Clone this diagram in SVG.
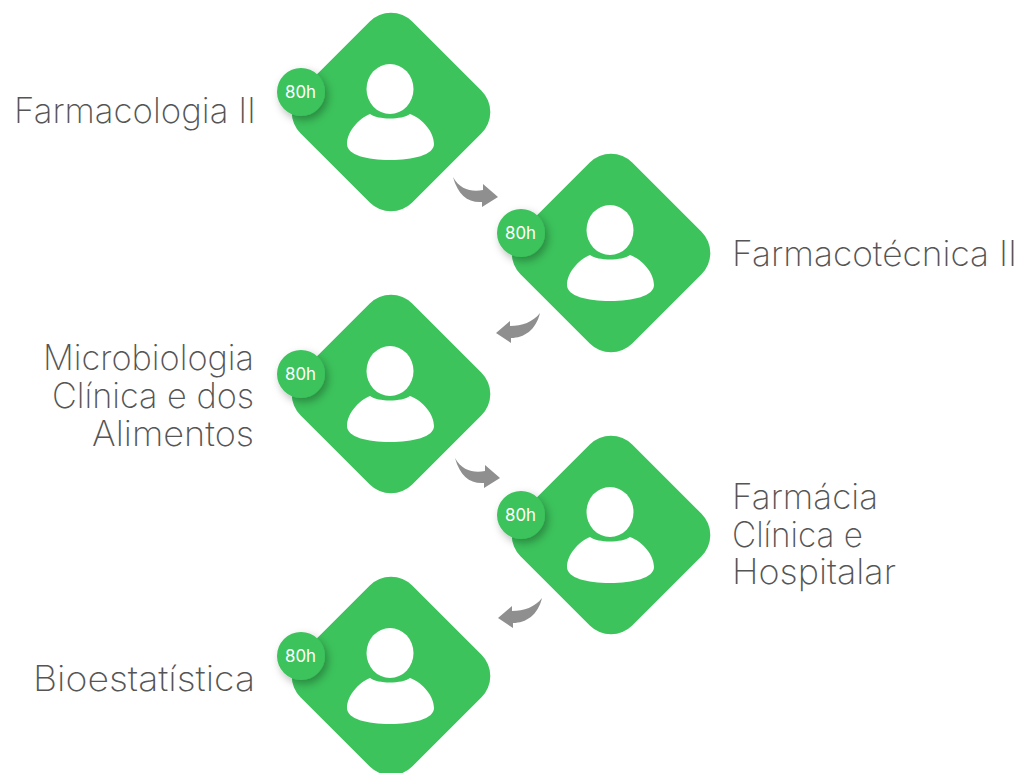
<svg xmlns="http://www.w3.org/2000/svg" xmlns:xlink="http://www.w3.org/1999/xlink" width="1024" height="773" viewBox="0 0 1024 773">
<style>
.lbl{font-family:"Inter","Liberation Sans",sans-serif;font-weight:200;font-size:35px;fill:#555}
.end{text-anchor:end}
.bt{font-family:"Inter","Liberation Sans",sans-serif;font-size:17px;font-weight:400;fill:#fff;text-anchor:middle}
.arrow{fill:#8f8f8f}
</style>
<defs>
<filter id="sh" x="-40%" y="-40%" width="190%" height="190%"><feDropShadow dx="3" dy="4" stdDeviation="4" flood-color="#000" flood-opacity="0.3"/></filter>
<g id="card">
<rect x="-79" y="-79" width="158" height="158" rx="30" transform="rotate(45)" fill="#3cc35c"/>
<ellipse cx="-1" cy="-23" rx="23.5" ry="25" fill="#fff"/>
<path d="M-21 2C-13 8 11 8 19 2C32 7 43 20 43 32C43 43 22 48 -1 48C-24 48 -44 43 -44 32C-44 20 -33 7 -21 2Z" fill="#fff"/>
<circle cx="-90" cy="-20" r="24" fill="#3cc35c" filter="url(#sh)"/>
<text x="-90.500" y="-14" class="bt" textLength="31" lengthAdjust="spacingAndGlyphs">80h</text>
</g>
</defs>
<g id="connectors">
<path class="arrow" d="M453 177C460 190 472 192 483 190L483 184L498 197L482 207L482 202C468 203 458 195 453 177Z"/>
<path class="arrow" d="M540 313C533 322 522 326 510 326L510 321L496 333L511 343L511 338C524 338 536 330 540 313Z"/>
<path class="arrow" d="M455 458C462 471 474 473 485 471L485 465L500 478L484 488L484 483C470 484 460 476 455 458Z"/>
<path class="arrow" d="M542 598C535 607 524 611 512 611L512 606L498 618L513 628L513 623C526 623 538 615 542 598Z"/>
</g>
<g id="node-1"><use xlink:href="#card" href="#card" x="391" y="112"/><text class="lbl end" x="256" y="123" textLength="242" lengthAdjust="spacingAndGlyphs">Farmacologia II</text></g>
<g id="node-2"><use xlink:href="#card" href="#card" x="611" y="253"/><text class="lbl" x="732" y="266" textLength="285" lengthAdjust="spacingAndGlyphs">Farmacotécnica II</text></g>
<g id="node-3"><use xlink:href="#card" href="#card" x="391" y="394"/><text class="lbl end" x="254" y="370" textLength="211" lengthAdjust="spacingAndGlyphs">Microbiologia</text><text class="lbl end" x="254" y="408" textLength="202" lengthAdjust="spacingAndGlyphs">Clínica e dos</text><text class="lbl end" x="254" y="446" textLength="162" lengthAdjust="spacingAndGlyphs">Alimentos</text></g>
<g id="node-4"><use xlink:href="#card" href="#card" x="611" y="535"/><text class="lbl" x="732" y="509" textLength="146" lengthAdjust="spacingAndGlyphs">Farmácia</text><text class="lbl" x="732" y="547" textLength="131" lengthAdjust="spacingAndGlyphs">Clínica e</text><text class="lbl" x="732" y="584" textLength="164" lengthAdjust="spacingAndGlyphs">Hospitalar</text></g>
<g id="node-5"><use xlink:href="#card" href="#card" x="391" y="676"/><text class="lbl end" x="255" y="691" textLength="222" lengthAdjust="spacingAndGlyphs">Bioestatística</text></g>
</svg>
